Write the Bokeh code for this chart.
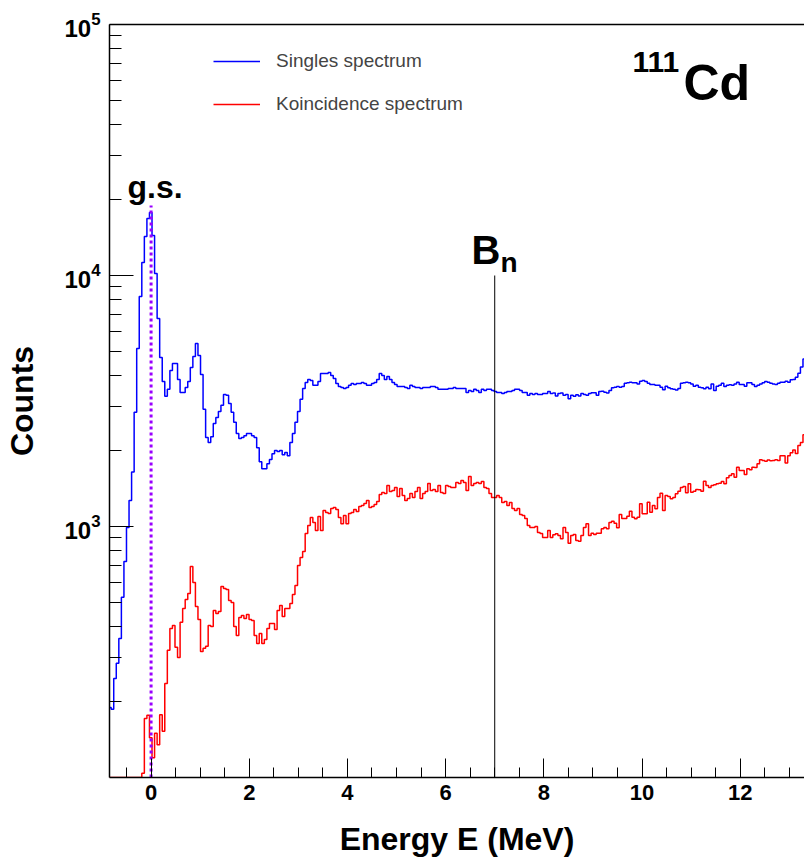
import numpy as np
from bokeh.plotting import figure
from bokeh.models import (Range1d, FixedTicker, SingleIntervalTicker, LinearAxis,
                          Label, Legend, LegendItem)
from bokeh.embed import file_html
from bokeh.resources import INLINE

# ---------------- data ----------------
E_FIRST_EDGE = -0.865   # MeV, lower edge of first bin
BIN_WIDTH = 0.052       # MeV

singles_counts = [
    190, 187, 248, 285, 358, 522, 725, 991, 1270, 1650,
    2850, 5120, 8250, 11270, 14300, 16870, 17820, 14430, 10190, 6740,
    4710, 3780, 3300, 3520, 4180, 4460, 4460, 3850, 3420, 3420,
    3580, 3780, 4300, 4760, 5360, 4800, 4030, 2930, 2260, 2160,
    2280, 2570, 2720, 2870, 3040, 3360, 3330, 3090, 2850, 2600,
    2345, 2240, 2260, 2300, 2345, 2345, 2300, 2260, 2060, 1810,
    1700, 1700, 1780, 1850, 1950, 2010, 1990, 2010, 1930, 1970,
    1915, 2160, 2345, 2600, 2870, 3210, 3550, 3750, 3850, 3820,
    3650, 3650, 3780, 4070, 4070, 4070, 4110, 4000, 3890, 3710,
    3610, 3580, 3550, 3580, 3650, 3710, 3680, 3710, 3710, 3750,
    3710, 3650, 3650, 3710, 3750, 3850, 4070, 4000, 3850, 3960,
    3850, 3750, 3680, 3610, 3610, 3610, 3580, 3550, 3650, 3610,
    3580, 3580, 3550, 3580, 3580, 3580, 3610, 3610, 3580, 3520,
    3520, 3520, 3520, 3550, 3550, 3580, 3550, 3550, 3550, 3550,
    3420, 3480, 3450, 3520, 3480, 3420, 3520, 3480, 3520, 3520,
    3480, 3450, 3420, 3420, 3390, 3420, 3450, 3450, 3480, 3520,
    3520, 3480, 3420, 3420, 3330, 3390, 3360, 3390, 3360, 3360,
    3390, 3390, 3450, 3390, 3400, 3310, 3390, 3400, 3330, 3360,
    3230, 3330, 3300, 3350, 3310, 3390, 3360, 3330, 3390, 3410,
    3410, 3330, 3450, 3460, 3430, 3400, 3480, 3570, 3590, 3610,
    3590, 3610, 3720, 3740, 3760, 3740, 3740, 3700, 3790, 3820,
    3780, 3720, 3680, 3680, 3650, 3650, 3590, 3510, 3620, 3570,
    3540, 3520, 3500, 3550, 3720, 3740, 3760, 3740, 3700, 3620,
    3650, 3590, 3570, 3540, 3590, 3540, 3700, 3480, 3620, 3650,
    3720, 3610, 3650, 3670, 3650, 3700, 3760, 3680, 3680, 3620,
    3740, 3740, 3680, 3610, 3650, 3700, 3740, 3780, 3760, 3720,
    3700, 3680, 3720, 3760, 3760, 3790, 3760, 3840, 3850, 3930,
    4080, 4320, 4650,
]

coincidence_counts = [
    0, 0, 0, 0, 0, 0, 0, 0, 0, 0,
    0, 0, 0, 104, 172, 177, 144, 120, 150, 135,
    178, 153, 237, 321, 392, 403, 330, 301, 415, 471,
    512, 541, 693, 598, 480, 426, 318, 327, 333, 403,
    400, 463, 450, 458, 577, 566, 561, 507, 498, 400,
    368, 434, 442, 430, 446, 426, 422, 368, 342, 375,
    342, 355, 392, 411, 411, 389, 463, 484, 438, 471,
    471, 493, 536, 582, 700, 753, 795, 938, 1009, 1086,
    1037, 964, 1096, 964, 1158, 1137, 1127, 1180, 1191, 1169,
    1086, 1025, 1106, 1025, 1127, 1137, 1169, 1148, 1202, 1213,
    1235, 1270, 1191, 1202, 1224, 1258, 1341, 1366, 1354, 1457,
    1379, 1392, 1430, 1317, 1417, 1329, 1270, 1293, 1354, 1305,
    1379, 1430, 1293, 1354, 1379, 1484, 1392, 1404, 1379, 1457,
    1366, 1354, 1457, 1444, 1430, 1430, 1498, 1484, 1525, 1498,
    1392, 1582, 1457, 1484, 1498, 1484, 1511, 1430, 1417, 1354,
    1305, 1305, 1329, 1305, 1247, 1258, 1213, 1247, 1180, 1158,
    1180, 1116, 1106, 1076, 1009, 991, 991, 1000, 946, 938,
    904, 904, 964, 904, 927, 935, 921, 893, 991, 946,
    858, 921, 929, 879, 874, 921, 991, 1025, 921, 940,
    929, 940, 940, 979, 991, 979, 1037, 1050, 1031, 988,
    1116, 1076, 1076, 1099, 1150, 1089, 1073, 1089, 1232, 1124,
    1124, 1250, 1140, 1213, 1177, 1305, 1358, 1158, 1329, 1317,
    1289, 1305, 1350, 1383, 1430, 1444, 1363, 1480, 1370, 1383,
    1404, 1401, 1383, 1516, 1457, 1430, 1457, 1467, 1480, 1488,
    1511, 1480, 1563, 1597, 1622, 1572, 1724, 1672, 1672, 1612,
    1698, 1682, 1724, 1719, 1778, 1845, 1833, 1821, 1839, 1828,
    1833, 1845, 1833, 1914, 1914, 1790, 1914, 1967, 2017, 1955,
    2100, 2159, 2320,
]

series_labels = ["Singles spectrum", "Koincidence spectrum"]

X_RANGE = (-0.847, 13.31)
Y_RANGE = (100, 1e5)
X_TICK_INTERVAL = 2
Y_MAJOR_TICKS = [1e3, 1e4, 1e5]
Y_MINOR_TICKS = [m * 10 ** e for e in (2, 3, 4) for m in range(2, 10)]

GS_ENERGY = 0.0        # ground state
GS_LINE_TOP = 19000
BN_ENERGY = 7.0        # neutron separation energy
BN_LINE_TOP = 10000

FONT = "Liberation Sans"

# ---------------- figure ----------------
n_bins = len(singles_counts)
edges = E_FIRST_EDGE + BIN_WIDTH * np.arange(n_bins + 1)
s_vals = np.array(singles_counts, dtype=float)
c_vals = np.clip(np.array(coincidence_counts, dtype=float), Y_RANGE[0], None)

p = figure(width=804, height=859, x_range=Range1d(*X_RANGE), y_range=Range1d(*Y_RANGE),
           y_axis_type="log", output_backend="svg", toolbar_location=None,
           min_border_left=109, min_border_right=0, min_border_top=24, min_border_bottom=82)
p.grid.visible = False
p.outline_line_color = None
p.background_fill_color = "white"

blue = p.step(x=edges, y=np.append(s_vals, s_vals[-1]), mode="after",
              line_color="#0000ff", line_width=1.5)
red = p.step(x=edges, y=np.append(c_vals, c_vals[-1]), mode="after",
             line_color="#ff0000", line_width=1.5)

p.segment(x0=[GS_ENERGY], y0=[Y_RANGE[0]], x1=[GS_ENERGY], y1=[GS_LINE_TOP],
          line_color="#9900ff", line_width=3, line_dash="3 3")
p.segment(x0=[BN_ENERGY], y0=[Y_RANGE[0]], x1=[BN_ENERGY], y1=[BN_LINE_TOP],
          line_color="black", line_width=1)

# axes
xa = p.xaxis[0]
xa.ticker = SingleIntervalTicker(interval=X_TICK_INTERVAL, num_minor_ticks=4)
xa.major_tick_in = 19
xa.major_tick_out = 0
xa.minor_tick_in = 10
xa.minor_tick_out = 0
xa.major_label_standoff = 7
xa.axis_label = "Energy E (MeV)"
xa.axis_label_standoff = 18

ya = p.yaxis[0]
ya.ticker = FixedTicker(ticks=Y_MAJOR_TICKS, minor_ticks=Y_MINOR_TICKS)
ya.major_tick_in = 24
ya.major_tick_out = 0
ya.minor_tick_in = 12
ya.minor_tick_out = 0
ya.major_label_standoff = 9
ya.axis_label = "Counts"
ya.axis_label_standoff = 21

for ax in (xa, ya):
    ax.axis_line_width = 1.5
    ax.axis_line_color = "black"
    ax.major_tick_line_color = "black"
    ax.minor_tick_line_color = "black"
    ax.major_label_text_font = FONT
    ax.major_label_text_font_style = "bold"
    ax.major_label_text_font_size = "22px"
    ax.major_label_text_color = "black"
    ax.axis_label_text_font = FONT
    ax.axis_label_text_font_style = "bold"
    ax.axis_label_text_font_size = "32px"
    ax.axis_label_text_color = "black"
ya.major_label_text_font_size = "24px"

top = LinearAxis(ticker=FixedTicker(ticks=[]), major_tick_line_color=None,
                 minor_tick_line_color=None, major_label_text_font_size="0px",
                 major_label_standoff=0, axis_line_width=1.5, axis_line_color="black")
p.add_layout(top, "above")

# legend
legend = Legend(items=[LegendItem(label=series_labels[0], renderers=[blue]),
                       LegendItem(label=series_labels[1], renderers=[red])],
                location=(104, 662), glyph_width=47, glyph_height=20, label_height=20,
                spacing=21, padding=0, margin=0, label_standoff=16,
                border_line_color=None, background_fill_alpha=0,
                label_text_font=FONT, label_text_font_size="19px")
p.add_layout(legend)

# annotations (screen units relative to frame bottom-left, vertically centred)
def lab(x, y, text, size):
    p.add_layout(Label(x=x, y=y, x_units="screen", y_units="screen", text=text,
                       text_font=FONT, text_font_style="bold", text_font_size=size,
                       text_baseline="middle", text_align="left", text_color="black"))

lab(18, 591, "g.s.", "32px")
lab(362, 528, "B", "40px")
lab(391, 515, "n", "28px")
lab(523, 716, "111", "30px")
lab(574, 695, "Cd", "50px")

open("out.html", "w").write(file_html(p, INLINE))
